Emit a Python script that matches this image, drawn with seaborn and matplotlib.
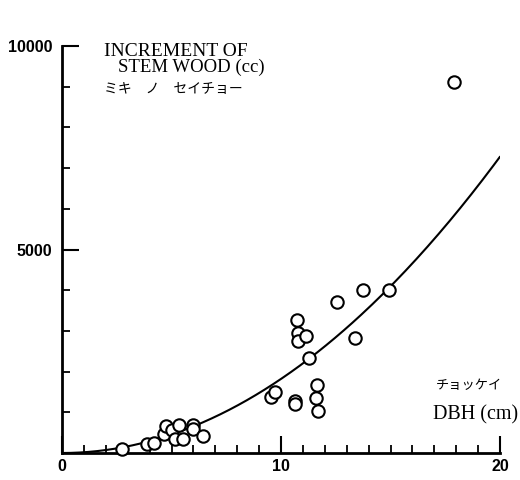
import numpy as np
import pandas as pd
import matplotlib
matplotlib.use("Agg")
import matplotlib.pyplot as plt
import seaborn as sns
from matplotlib.ticker import MultipleLocator, FixedLocator

# Diameter at breast height (cm) of each sample tree
dbh_cm = [2.73, 3.88, 4.21, 4.67, 4.75, 5.02, 5.36, 5.16, 5.54, 5.97, 5.97, 6.45,
          9.53, 9.73, 10.63, 10.65, 10.72, 10.79, 10.79, 11.14, 11.29, 11.66,
          11.60, 11.70, 12.54, 13.38, 13.76, 14.93, 17.90]

# Increment of stem wood (cc) of each sample tree
stem_increment_cc = [110, 214, 238, 460, 663, 565, 680, 337, 332, 688, 582, 418,
                     1383, 1506, 1278, 1204, 3268, 2941, 2759, 2882, 2327, 1671,
                     1344, 1025, 3703, 2818, 4017, 4005, 9108]

# Fitted relation: increment = coef * DBH ** power
fit_coef = 18.2
fit_power = 2.0

x_tick_values = [0, 10, 20]
x_tick_labels = ["0", "10", "20"]
y_tick_values = [5000, 10000]
y_tick_labels = ["5000", "10000"]

sns.set_theme(style="ticks")
plt.rcParams["font.family"] = ["Liberation Serif", "Noto Sans CJK JP", "DejaVu Sans"]

W, H = 520, 480
fig = plt.figure(figsize=(W / 100, H / 100), dpi=100)
fig.patch.set_facecolor("white")
ax = fig.add_axes([62 / W, 27 / H, 438 / W, 407 / H])
ax.set_facecolor("white")

trees = pd.DataFrame({"dbh": dbh_cm, "increment": stem_increment_cc})

curve_x = np.linspace(0, 20, 200)
curve = pd.DataFrame({"dbh": curve_x, "increment": fit_coef * curve_x ** fit_power})
sns.lineplot(data=curve, x="dbh", y="increment", color="black", linewidth=1.5,
             ax=ax, zorder=2)

sns.scatterplot(data=trees, x="dbh", y="increment", marker="o", s=80,
                facecolor="white", edgecolor="black", linewidth=1.5,
                ax=ax, zorder=3, clip_on=False)

ax.set_xlim(0, 20)
ax.set_ylim(0, 10000)
ax.set_xlabel("")
ax.set_ylabel("")

for side in ("top", "right"):
    ax.spines[side].set_visible(False)
for side in ("left", "bottom"):
    ax.spines[side].set_linewidth(2.0)
    ax.spines[side].set_color("black")

ax.xaxis.set_major_locator(FixedLocator(x_tick_values))
ax.xaxis.set_minor_locator(MultipleLocator(1))
ax.yaxis.set_major_locator(FixedLocator(y_tick_values))
ax.yaxis.set_minor_locator(MultipleLocator(1000))
ax.set_xticklabels(x_tick_labels)
ax.set_yticklabels(y_tick_labels)

ax.tick_params(axis="both", which="major", direction="in", length=12, width=1.5,
               color="black", labelcolor="black")
ax.tick_params(axis="both", which="minor", direction="in", length=6, width=1.3,
               color="black")
ax.tick_params(axis="y", which="major", pad=7)
ax.tick_params(axis="x", which="major", pad=4)

for lab in ax.get_xticklabels() + ax.get_yticklabels():
    lab.set_family(["Liberation Sans", "DejaVu Sans"])
    lab.set_fontweight("bold")
    lab.set_fontsize(11.5)

serif = ["Liberation Serif", "DejaVu Serif"]
cjk = ["Noto Sans CJK JP", "DejaVu Sans"]

def px(x, y):
    return x / W, 1 - y / H

fig.text(*px(104, 51), "INCREMENT OF", family=serif, fontsize=14,
         ha="left", va="center", color="black")
fig.text(*px(118, 67), "STEM WOOD (cc)", family=serif, fontsize=13.5,
         ha="left", va="center", color="black")
fig.text(*px(104, 89), "ミキ　ノ　セイチョー", family=cjk, fontsize=10,
         ha="left", va="center", color="black")
fig.text(*px(436, 385), "チョッケイ", family=cjk, fontsize=9.5,
         ha="left", va="center", color="black")
fig.text(*px(433, 415), "DBH (cm)", family=serif, fontsize=14.5,
         ha="left", va="center", color="black")

fig.savefig("out.png", dpi=100, facecolor="white")
